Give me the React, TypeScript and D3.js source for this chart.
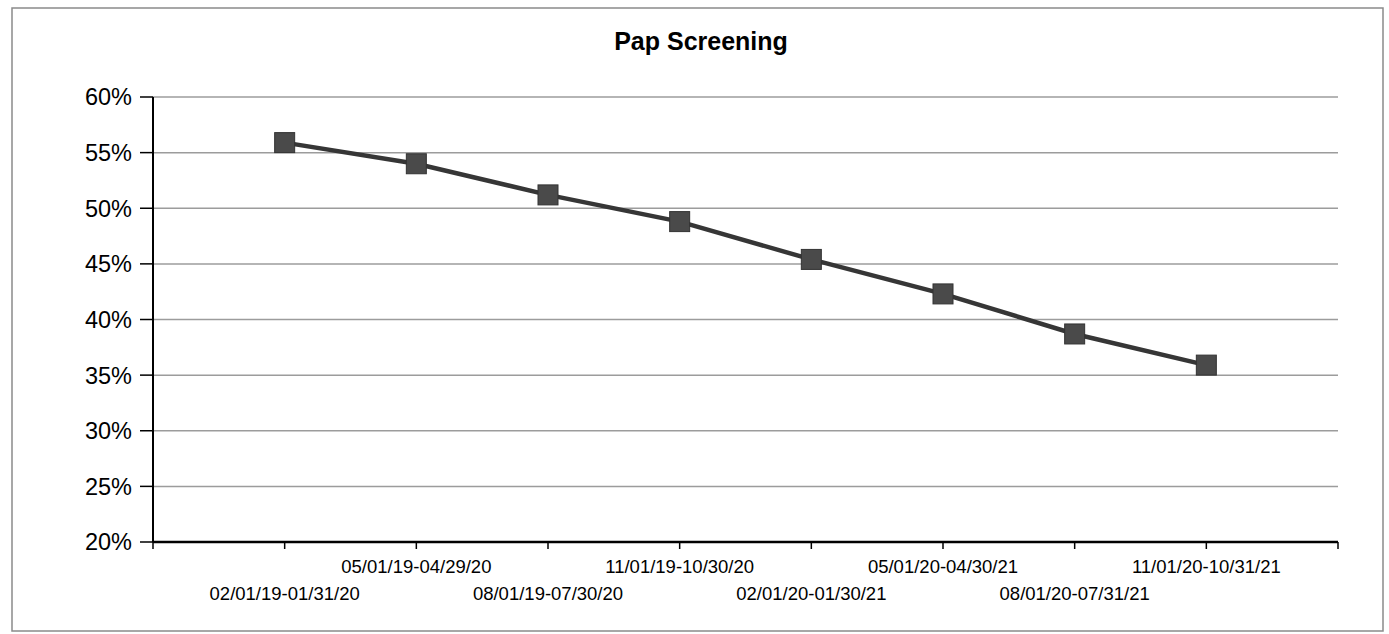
import React from 'react'
import { scaleLinear, scalePoint, line } from 'd3'

const title = 'Pap Screening'
const categories = [
    '02/01/19-01/31/20',
    '05/01/19-04/29/20',
    '08/01/19-07/30/20',
    '11/01/19-10/30/20',
    '02/01/20-01/30/21',
    '05/01/20-04/30/21',
    '08/01/20-07/31/21',
    '11/01/20-10/31/21',
]
const values = [55.9, 54.0, 51.2, 48.8, 45.4, 42.3, 38.7, 35.9]
const yTicks = [20, 25, 30, 35, 40, 45, 50, 55, 60]

const W = 1389
const H = 634
const left = 153
const right = 1338
const top = 97
const bottom = 542
const font = '"Liberation Sans", Arial, sans-serif'

const App = () => {
    const x = scalePoint<string>().domain(categories).range([left, right]).padding(1)
    const y = scaleLinear().domain([20, 60]).range([bottom, top])
    const tickXs = [left, ...categories.map(c => x(c) as number), right]

    const path = line<number>()
        .x((d, i) => x(categories[i]) as number)
        .y(d => y(d))(values)

    return (
        <svg width={W} height={H} style={{ position: 'absolute', left: 0, top: 0 }} fontFamily={font}>
            <rect x={0} y={0} width={W} height={H} fill="#fff" />
            <rect x={12} y={8} width={1371} height={623} fill="none" stroke="#8a8a8a" strokeWidth={1.5} />
            <text x={701} y={50} textAnchor="middle" fontSize={25} fontWeight="bold" fill="#000">{title}</text>

            {/* gridlines */}
            {yTicks.slice(1).map(t => (
                <line key={t} x1={left} x2={right} y1={y(t)} y2={y(t)} stroke="#9c9c9c" strokeWidth={1.5} />
            ))}

            {/* y axis */}
            <line x1={left} x2={left} y1={top} y2={bottom} stroke="#000" strokeWidth={2} />
            {yTicks.map(t => (
                <g key={t}>
                    <line x1={left - 13} x2={left} y1={y(t)} y2={y(t)} stroke="#000" strokeWidth={1.5} />
                    <text x={132} y={y(t)} dy="0.36em" textAnchor="end" fontSize={23.5} fill="#000">{t}%</text>
                </g>
            ))}

            {/* x axis */}
            <line x1={left} x2={right} y1={bottom} y2={bottom} stroke="#000" strokeWidth={2.5} />
            {tickXs.map((tx, i) => (
                <line key={i} x1={tx} x2={tx} y1={bottom} y2={bottom + 7} stroke="#000" strokeWidth={1.5} />
            ))}
            {categories.map((c, i) => (
                <text key={c} x={x(c)} y={i % 2 === 0 ? 600 : 573} textAnchor="middle" fontSize={18.5} fill="#000">{c}</text>
            ))}

            {/* series */}
            <path d={path || ''} fill="none" stroke="#363636" strokeWidth={4.5} />
            {values.map((v, i) => (
                <rect key={i} x={(x(categories[i]) as number) - 10} y={y(v) - 10} width={20} height={20}
                    fill="#4a4a4a" stroke="#333" strokeWidth={1} />
            ))}
        </svg>
    )
}

export default App
